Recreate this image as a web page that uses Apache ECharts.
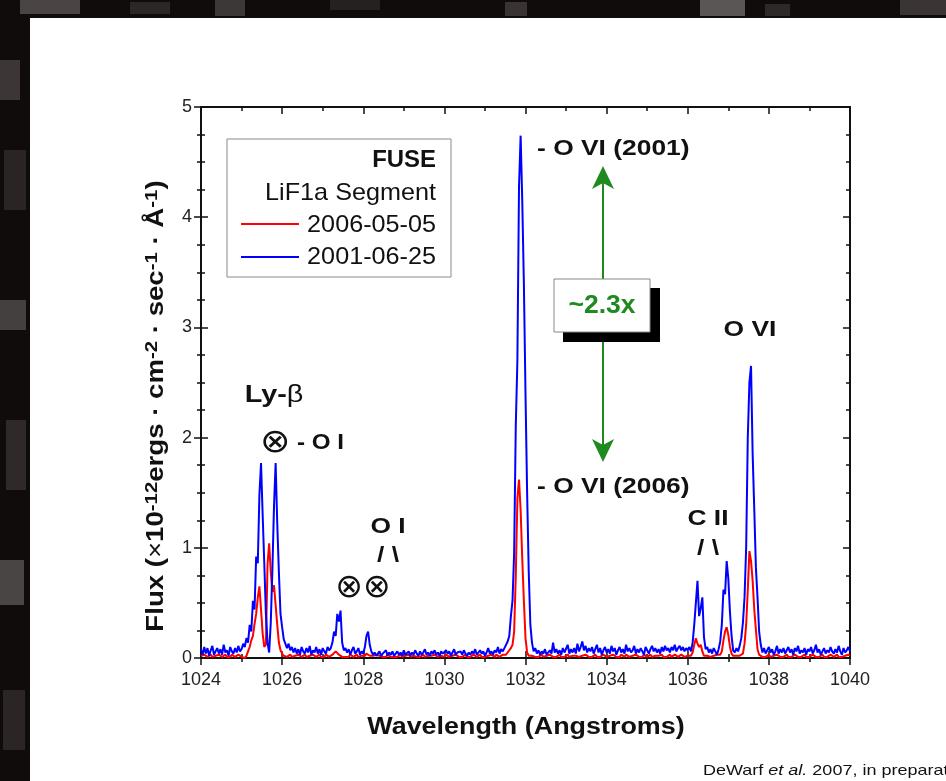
<!DOCTYPE html>
<html>
<head>
<meta charset="utf-8">
<title>FUSE LiF1a spectrum</title>
<script src="https://cdn.jsdelivr.net/npm/echarts/dist/echarts.min.js"></script>
<style>
  html, body { margin: 0; padding: 0; background: #100c0c; }
  #chart { width: 946px; height: 781px; }
</style>
</head>
<body>
<div id="chart"></div>
<script>
// wavelength grid of the spectra (Angstroms)
var wlStart = 1024;
var wlStep = 0.04;

// 2006-05-05 flux, one value per grid step (x1e-12)
var flux2006 = [
  0.02,0.01,0.03,0.02,0.01,0.02,0.03,0.01,0.02,0.02,
  0.01,0.03,0.02,0.01,0.02,0.03,0.01,0.02,0.01,0.03,
  0.02,0.01,0.02,0.03,0.02,0.01,0.02,0.00,0.02,0.06,
  0.10,0.16,0.20,0.31,0.40,0.55,0.65,0.44,0.22,0.10,
  0.12,0.85,1.04,0.78,0.60,0.66,0.48,0.30,0.14,0.07,
  0.04,0.02,0.03,0.01,0.02,0.03,0.01,0.02,0.02,0.01,
  0.03,0.02,0.01,0.02,0.03,0.01,0.02,0.02,0.01,0.03,
  0.02,0.01,0.02,0.03,0.01,0.02,0.01,0.03,0.02,0.01,
  0.02,0.03,0.04,0.06,0.05,0.03,0.02,0.01,0.02,0.01,
  0.02,0.01,0.03,0.02,0.01,0.02,0.03,0.01,0.02,0.02,
  0.01,0.02,0.04,0.03,0.02,0.01,0.02,0.01,0.03,0.02,
  0.02,0.03,0.01,0.02,0.01,0.03,0.02,0.01,0.02,0.01,
  0.02,0.01,0.02,0.03,0.01,0.02,0.02,0.01,0.03,0.01,
  0.01,0.02,0.03,0.01,0.02,0.01,0.02,0.03,0.01,0.02,
  0.02,0.01,0.02,0.01,0.03,0.02,0.01,0.02,0.02,0.01,
  0.01,0.03,0.02,0.01,0.02,0.02,0.01,0.03,0.02,0.01,
  0.02,0.01,0.02,0.03,0.01,0.02,0.01,0.02,0.03,0.02,
  0.01,0.02,0.03,0.01,0.02,0.01,0.02,0.02,0.01,0.03,
  0.02,0.01,0.03,0.02,0.01,0.02,0.03,0.02,0.03,0.05,
  0.06,0.09,0.12,0.24,0.74,1.45,1.62,1.34,0.90,0.52,
  0.18,0.05,0.02,0.01,0.02,0.03,0.01,0.02,0.01,0.02,
  0.03,0.01,0.02,0.02,0.01,0.03,0.02,0.01,0.02,0.01,
  0.02,0.03,0.01,0.02,0.01,0.02,0.03,0.01,0.02,0.02,
  0.01,0.02,0.03,0.01,0.02,0.02,0.01,0.03,0.02,0.01,
  0.02,0.01,0.02,0.03,0.01,0.02,0.01,0.02,0.03,0.02,
  0.01,0.02,0.02,0.01,0.03,0.02,0.01,0.02,0.01,0.03,
  0.02,0.01,0.03,0.02,0.01,0.02,0.02,0.01,0.03,0.02,
  0.01,0.02,0.01,0.03,0.02,0.01,0.02,0.03,0.01,0.02,
  0.02,0.01,0.02,0.02,0.03,0.01,0.02,0.01,0.02,0.03,
  0.01,0.02,0.03,0.02,0.01,0.02,0.03,0.02,0.01,0.02,
  0.02,0.03,0.02,0.05,0.12,0.18,0.13,0.10,0.12,0.06,
  0.02,0.01,0.02,0.03,0.01,0.02,0.02,0.01,0.03,0.02,
  0.03,0.06,0.16,0.24,0.28,0.21,0.10,0.04,0.02,0.01,
  0.02,0.01,0.02,0.03,0.04,0.13,0.30,0.62,0.97,0.88,
  0.70,0.44,0.26,0.08,0.03,0.02,0.01,0.02,0.01,0.02,
  0.03,0.01,0.02,0.02,0.01,0.03,0.02,0.01,0.02,0.01,
  0.02,0.03,0.01,0.02,0.01,0.02,0.03,0.02,0.01,0.02,
  0.01,0.02,0.03,0.01,0.02,0.01,0.02,0.03,0.02,0.01,
  0.02,0.01,0.02,0.03,0.01,0.02,0.01,0.02,0.03,0.02,
  0.01,0.02,0.03,0.01,0.02,0.01,0.02,0.02,0.01,0.03,0.02
];

// 2001-06-25 flux
var flux2001 = [
  0.08,0.03,0.10,0.04,0.09,0.02,0.07,0.11,0.03,0.06,
  0.09,0.04,0.08,0.03,0.12,0.05,0.07,0.02,0.10,0.06,
  0.04,0.09,0.05,0.11,0.06,0.08,0.13,0.10,0.18,0.14,
  0.30,0.24,0.52,0.44,0.92,0.86,1.48,1.77,1.30,0.86,
  0.40,0.14,0.05,0.32,0.80,1.38,1.77,1.22,0.78,0.40,
  0.28,0.17,0.16,0.09,0.13,0.07,0.10,0.05,0.09,0.04,
  0.08,0.03,0.10,0.06,0.04,0.09,0.05,0.11,0.03,0.07,
  0.05,0.10,0.04,0.08,0.03,0.09,0.06,0.04,0.10,0.07,
  0.09,0.14,0.24,0.20,0.40,0.33,0.43,0.14,0.07,0.09,
  0.05,0.08,0.03,0.07,0.10,0.04,0.06,0.09,0.03,0.06,
  0.04,0.10,0.20,0.24,0.12,0.06,0.03,0.05,0.02,0.04,
  0.06,0.02,0.04,0.03,0.07,0.02,0.05,0.03,0.06,0.02,
  0.04,0.06,0.03,0.05,0.02,0.07,0.03,0.04,0.06,0.02,
  0.05,0.03,0.07,0.04,0.02,0.06,0.03,0.05,0.08,0.03,
  0.05,0.02,0.06,0.04,0.07,0.03,0.05,0.02,0.06,0.04,
  0.03,0.07,0.04,0.06,0.02,0.05,0.08,0.03,0.05,0.04,
  0.06,0.03,0.07,0.04,0.02,0.05,0.03,0.06,0.04,0.08,
  0.03,0.05,0.07,0.04,0.06,0.02,0.05,0.09,0.04,0.06,
  0.03,0.07,0.05,0.10,0.04,0.08,0.06,0.09,0.10,0.15,
  0.20,0.38,0.52,0.95,2.10,2.70,4.28,4.74,4.15,3.40,
  2.40,1.50,0.78,0.30,0.14,0.06,0.09,0.04,0.07,0.03,
  0.06,0.04,0.08,0.03,0.05,0.07,0.04,0.14,0.05,0.08,
  0.04,0.07,0.03,0.09,0.05,0.06,0.12,0.04,0.08,0.05,
  0.09,0.04,0.13,0.06,0.10,0.15,0.07,0.11,0.05,0.09,
  0.06,0.10,0.04,0.08,0.12,0.05,0.09,0.03,0.07,0.10,
  0.05,0.08,0.04,0.11,0.06,0.09,0.03,0.07,0.10,0.05,
  0.08,0.04,0.12,0.06,0.09,0.05,0.07,0.11,0.04,0.08,
  0.05,0.09,0.06,0.03,0.10,0.07,0.04,0.08,0.11,0.06,
  0.09,0.05,0.08,0.04,0.10,0.06,0.11,0.07,0.09,0.05,
  0.10,0.07,0.12,0.06,0.09,0.11,0.07,0.10,0.06,0.09,
  0.07,0.10,0.06,0.14,0.30,0.50,0.70,0.38,0.45,0.55,
  0.19,0.08,0.10,0.05,0.08,0.04,0.09,0.06,0.03,0.08,
  0.15,0.30,0.62,0.58,0.88,0.72,0.42,0.20,0.07,0.05,
  0.09,0.06,0.11,0.18,0.32,0.55,1.00,2.00,2.50,2.65,
  1.85,1.35,0.82,0.55,0.24,0.12,0.05,0.09,0.04,0.07,
  0.10,0.05,0.08,0.03,0.06,0.11,0.04,0.08,0.05,0.09,
  0.04,0.07,0.10,0.05,0.08,0.03,0.09,0.06,0.11,0.04,
  0.07,0.05,0.09,0.03,0.08,0.06,0.10,0.04,0.07,0.12,
  0.05,0.08,0.03,0.06,0.09,0.04,0.07,0.05,0.10,0.06,
  0.04,0.08,0.05,0.11,0.06,0.03,0.09,0.05,0.07,0.10,0.06
];

var seriesNames = ['2006-05-05', '2001-06-25'];
var seriesColors = ['#ff0000', '#0000ff'];

function toPoints(arr) {
  return arr.map(function (v, i) {
    return [+(wlStart + i * wlStep).toFixed(2), v];
  });
}

var FONT = '"Liberation Sans", Arial, "DejaVu Sans", sans-serif';
var INK = '#111';
var GREEN = '#1f8a1f';

function plainNum(v) { return String(v); }

function xAx(pos, inside, labels, line) {
  return {
    type: 'value', position: pos, min: 1024, max: 1040, interval: 2,
    axisLine: { show: line, onZero: false, lineStyle: { color: INK, width: 2 } },
    axisTick: { show: true, inside: inside, length: 7, lineStyle: { color: INK, width: 1.5 } },
    minorTick: { show: true, splitNumber: 2, length: 4, lineStyle: { color: INK, width: 1.5 } },
    axisLabel: { show: labels, formatter: plainNum, fontFamily: FONT, fontSize: 18, color: '#222', margin: 13 },
    splitLine: { show: false }
  };
}
function yAx(pos, inside, labels, line) {
  return {
    type: 'value', position: pos, min: 0, max: 5, interval: 1,
    axisLine: { show: line, onZero: false, lineStyle: { color: INK, width: 2 } },
    axisTick: { show: true, inside: inside, length: 7, lineStyle: { color: INK, width: 1.5 } },
    minorTick: { show: true, splitNumber: 4, length: 4, lineStyle: { color: INK, width: 1.5 } },
    axisLabel: { show: labels, formatter: plainNum, fontFamily: FONT, fontSize: 18, color: '#222', margin: 9 },
    splitLine: { show: false }
  };
}

// text helper; sx stretches the text horizontally like the original figure
function txt(x, y, text, size, align, extra, sx) {
  var el = {
    type: 'text', x: x, y: y, z: 100, scaleX: sx || 1,
    style: {
      text: text, fill: INK,
      font: 'bold ' + size + 'px ' + FONT,
      align: align, textAlign: align,
      verticalAlign: 'middle', textVerticalAlign: 'middle'
    }
  };
  if (extra) { for (var k in extra) el.style[k] = extra[k]; }
  return el;
}

// a few grey blocks for the dark frame
var frameBlocks = [
  [20, 0, 60, 14, '#4a4444'], [130, 2, 40, 12, '#2c2626'], [215, 0, 30, 16, '#3d3838'],
  [330, 0, 50, 10, '#262020'], [505, 2, 22, 14, '#393333'], [700, 0, 45, 16, '#5a5656'],
  [765, 4, 25, 12, '#2e2828'], [900, 0, 46, 15, '#3a3434'], [0, 60, 20, 40, '#3c3636'],
  [4, 150, 22, 60, '#2a2424'], [0, 300, 26, 30, '#454040'], [6, 420, 20, 70, '#2f2929'],
  [0, 560, 24, 45, '#4a4545'], [3, 690, 22, 60, '#2b2525']
];
var graphics = frameBlocks.map(function (b) {
  return { type: 'rect', z: -20, shape: { x: b[0], y: b[1], width: b[2], height: b[3] }, style: { fill: b[4] } };
});
graphics.push({ type: 'rect', z: -10, shape: { x: 30, y: 18, width: 916, height: 763 }, style: { fill: '#ffffff' } });

// legend box
graphics.push({ type: 'rect', z: 90, shape: { x: 227, y: 139, width: 224, height: 138 },
  style: { fill: '#fff', stroke: '#8a8a8a', lineWidth: 1 } });
graphics.push(txt(436, 161, 'FUSE', 23, 'right', null, 1.04));
graphics.push(txt(436, 193, 'LiF1a Segment', 24, 'right', { font: '24px ' + FONT }, 1.05));
graphics.push(txt(436, 225, seriesNames[0], 24, 'right', { font: '24px ' + FONT }, 1.05));
graphics.push(txt(436, 257, seriesNames[1], 24, 'right', { font: '24px ' + FONT }, 1.05));
graphics.push({ type: 'line', z: 100, shape: { x1: 241, y1: 224, x2: 299, y2: 224 }, style: { stroke: seriesColors[0], lineWidth: 2 } });
graphics.push({ type: 'line', z: 100, shape: { x1: 241, y1: 257, x2: 299, y2: 257 }, style: { stroke: seriesColors[1], lineWidth: 2 } });

// line annotations
var SX = 1.2;
var OTIMES = '33px "DejaVu Sans"';
graphics.push(txt(302, 443, '{s|⊗}{b| - O I}', 22, 'center', {
  rich: { s: { font: OTIMES, fill: INK }, b: { font: 'bold 22px ' + FONT, fill: INK } } }, 1.1));
graphics.push(txt(274, 395, '{b|Ly-}{g|β}', 24, 'center', {
  rich: { b: { font: 'bold 24px ' + FONT, fill: INK }, g: { font: '24px ' + FONT, fill: INK } } }, SX));
graphics.push(txt(388, 527, 'O I', 22, 'center', null, SX));
graphics.push(txt(388, 556, '/ \\', 22, 'center', null, SX));
graphics.push(txt(363, 588, '⊗⊗', 22, 'center', { font: OTIMES }, 1.0));
graphics.push(txt(537, 149, '- O VI (2001)', 22, 'left', null, SX));
graphics.push(txt(537, 487, '- O VI (2006)', 22, 'left', null, SX));
graphics.push(txt(750, 330, 'O VI', 22, 'center', null, SX));
graphics.push(txt(708, 519, 'C II', 22, 'center', null, SX));
graphics.push(txt(708, 549, '/ \\', 22, 'center', null, SX));

// ratio arrow
graphics.push({ type: 'line', z: 95, shape: { x1: 603, y1: 182, x2: 603, y2: 446 }, style: { stroke: GREEN, lineWidth: 2 } });
graphics.push({ type: 'polygon', z: 95, shape: { points: [[603, 166], [592, 189], [603, 183], [614, 189]] }, style: { fill: GREEN } });
graphics.push({ type: 'polygon', z: 95, shape: { points: [[603, 462], [592, 439], [603, 445], [614, 439]] }, style: { fill: GREEN } });
graphics.push({ type: 'rect', z: 96, shape: { x: 563, y: 288, width: 97, height: 54 }, style: { fill: '#000' } });
graphics.push({ type: 'rect', z: 97, shape: { x: 554, y: 279, width: 96, height: 53 }, style: { fill: '#fff', stroke: '#888', lineWidth: 1 } });
graphics.push(txt(602, 306, '~2.3x', 25, 'center', { fill: GREEN }, 1.06));

// axis titles
graphics.push(txt(526, 728, 'Wavelength (Angstroms)', 23, 'center', null, 1.17));
graphics.push({
  type: 'text', x: 156, y: 406, rotation: Math.PI / 2, scaleX: 1.2, z: 100,
  style: {
    text: '{b|Flux (}{n|×}{b|10}{s|-12}{b|ergs · cm}{s|-2}{b| · sec}{s|-1}{b| · Å}{s|-1}{b|)}',
    font: 'bold 23px ' + FONT, fill: INK,
    align: 'center', textAlign: 'center', verticalAlign: 'middle', textVerticalAlign: 'middle',
    rich: {
      b: { font: 'bold 23px ' + FONT, fill: INK, lineHeight: 24, verticalAlign: 'bottom' },
      n: { font: '23px ' + FONT, fill: INK, lineHeight: 24, verticalAlign: 'bottom' },
      s: { font: 'bold 17px ' + FONT, fill: INK, lineHeight: 16, verticalAlign: 'top' }
    }
  }
});
graphics.push(txt(703, 771, '{n|DeWarf }{i|et al.}{n| 2007, in preparation}', 15, 'left', {
  rich: { n: { font: '15px ' + FONT, fill: INK }, i: { font: 'italic 15px ' + FONT, fill: INK } } }, 1.2));

var chart = echarts.init(document.getElementById('chart'), null, { renderer: 'canvas' });
chart.setOption({
  animation: false,
  backgroundColor: '#100c0c',
  grid: { left: 201, right: 96, top: 107, bottom: 123, containLabel: false },
  xAxis: [xAx('bottom', false, true, true), xAx('bottom', true, false, false), xAx('top', true, false, true)],
  yAxis: [yAx('left', false, true, true), yAx('left', true, false, false), yAx('right', true, false, true)],
  series: [
    { name: seriesNames[0], type: 'line', xAxisIndex: 0, yAxisIndex: 0, showSymbol: false, z: 3,
      lineStyle: { color: seriesColors[0], width: 2 }, itemStyle: { color: seriesColors[0] },
      data: toPoints(flux2006) },
    { name: seriesNames[1], type: 'line', xAxisIndex: 0, yAxisIndex: 0, showSymbol: false, z: 4,
      lineStyle: { color: seriesColors[1], width: 2 }, itemStyle: { color: seriesColors[1] },
      data: toPoints(flux2001) }
  ],
  graphic: { elements: graphics }
});
</script>
</body>
</html>
